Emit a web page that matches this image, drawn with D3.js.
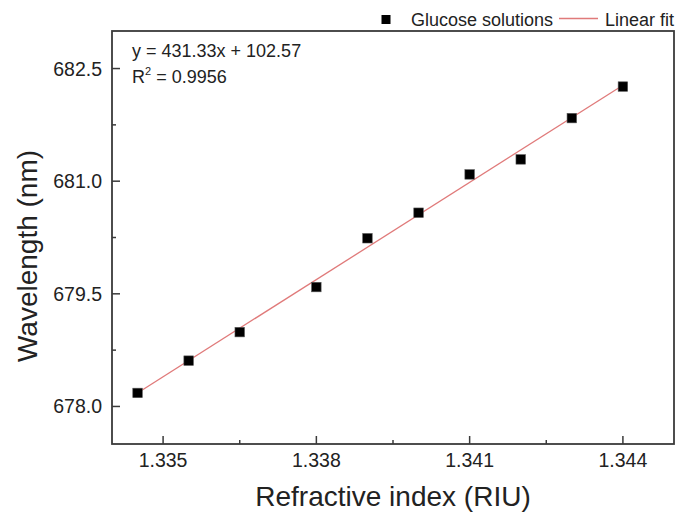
<!DOCTYPE html>
<html><head><meta charset="utf-8">
<script src="https://cdn.jsdelivr.net/npm/d3@7"></script>
<style>body{margin:0;background:#fff}svg{display:block}text{font-family:"Liberation Sans",Arial,sans-serif;fill:#222}</style>
</head><body>
<script>
const refractiveIndex = [1.3345, 1.3355, 1.3365, 1.338, 1.339, 1.340, 1.341, 1.342, 1.343, 1.344];
const wavelength = [678.18, 678.61, 678.99, 679.59, 680.24, 680.58, 681.09, 681.29, 681.84, 682.26];
const xTicks = [1.335, 1.338, 1.341, 1.344];
const xMinor = [1.3365, 1.3395, 1.3425];
const yTicks = [678.0, 679.5, 681.0, 682.5];
const yMinor = [678.75, 680.25, 681.75];
const fitSlope = 431.33, fitIntercept = 102.57;

const W = 676, H = 517;
const m = {left:112, right:2, top:31, bottom:73};
const svg = d3.select("body").append("svg").attr("width", W).attr("height", H);
const x = d3.scaleLinear().domain([1.334, 1.345]).range([m.left, W - m.right]);
const y = d3.scaleLinear().domain([677.5, 683]).range([H - m.bottom, m.top]);
const axisColor = "#3a3a3a";

// ticks (inward)
const g = svg.append("g");
g.selectAll(".xt").data(xTicks).join("line")
  .attr("x1", d => x(d)).attr("x2", d => x(d))
  .attr("y1", y(677.5)).attr("y2", y(677.5) - 8).attr("stroke", axisColor).attr("stroke-width", 1.5);
g.selectAll(".xm").data(xMinor).join("line")
  .attr("x1", d => x(d)).attr("x2", d => x(d))
  .attr("y1", y(677.5)).attr("y2", y(677.5) - 4).attr("stroke", axisColor).attr("stroke-width", 1.5);
g.selectAll(".yt").data(yTicks).join("line")
  .attr("y1", d => y(d)).attr("y2", d => y(d))
  .attr("x1", x(1.334)).attr("x2", x(1.334) + 8).attr("stroke", axisColor).attr("stroke-width", 1.5);
g.selectAll(".ym").data(yMinor).join("line")
  .attr("y1", d => y(d)).attr("y2", d => y(d))
  .attr("x1", x(1.334)).attr("x2", x(1.334) + 4).attr("stroke", axisColor).attr("stroke-width", 1.5);

// tick labels
svg.selectAll(".xl").data(xTicks).join("text")
  .attr("x", d => x(d)).attr("y", 467).attr("text-anchor", "middle")
  .attr("font-size", 19.5).text(d => d3.format(".3f")(d));
svg.selectAll(".yl").data(yTicks).join("text")
  .attr("x", 102).attr("y", d => y(d) + 7).attr("text-anchor", "end")
  .attr("font-size", 19.5).text(d => d3.format(".1f")(d));

// frame
svg.append("rect").attr("x", x(1.334)).attr("y", y(683))
  .attr("width", x(1.345) - x(1.334)).attr("height", y(677.5) - y(683))
  .attr("fill", "none").attr("stroke", axisColor).attr("stroke-width", 1.8);

// fit line
const x0 = d3.min(refractiveIndex), x1 = d3.max(refractiveIndex);
svg.append("line")
  .attr("x1", x(x0)).attr("y1", y(fitSlope * x0 + fitIntercept))
  .attr("x2", x(x1)).attr("y2", y(fitSlope * x1 + fitIntercept))
  .attr("stroke", "#e07a7a").attr("stroke-width", 1.3);

// points
const s = 9.5;
svg.selectAll(".pt").data(refractiveIndex).join("rect")
  .attr("x", (d) => x(d) - s / 2).attr("y", (d, i) => y(wavelength[i]) - s / 2)
  .attr("width", s).attr("height", s).attr("fill", "#000").attr("stroke", "#555").attr("stroke-width", 0.6);

// equation
svg.append("text").attr("x", 132).attr("y", 57).attr("font-size", 18).text("y = 431.33x + 102.57");
const r2 = svg.append("text").attr("x", 132).attr("y", 83).attr("font-size", 18);
r2.append("tspan").text("R");
r2.append("tspan").attr("font-size", 11).attr("dy", -8).text("2");
r2.append("tspan").attr("dy", 8).text(" = 0.9956");

// legend
svg.append("rect").attr("x", 386 - 4.5).attr("y", 19.5 - 4.5).attr("width", 9).attr("height", 9).attr("fill", "#000");
svg.append("text").attr("x", 411).attr("y", 26).attr("font-size", 18).text("Glucose solutions");
svg.append("line").attr("x1", 559).attr("x2", 598).attr("y1", 18.5).attr("y2", 18.5)
  .attr("stroke", "#e07a7a").attr("stroke-width", 1.3);
svg.append("text").attr("x", 605).attr("y", 26).attr("font-size", 18).text("Linear fit");

// axis titles
svg.append("text").attr("x", (x(1.334) + x(1.345)) / 2).attr("y", 506)
  .attr("text-anchor", "middle").attr("font-size", 28).text("Refractive index (RIU)");
svg.append("text").attr("transform", "translate(37,256) rotate(-90)")
  .attr("text-anchor", "middle").attr("font-size", 28).text("Wavelength (nm)");
</script>
</body></html>
